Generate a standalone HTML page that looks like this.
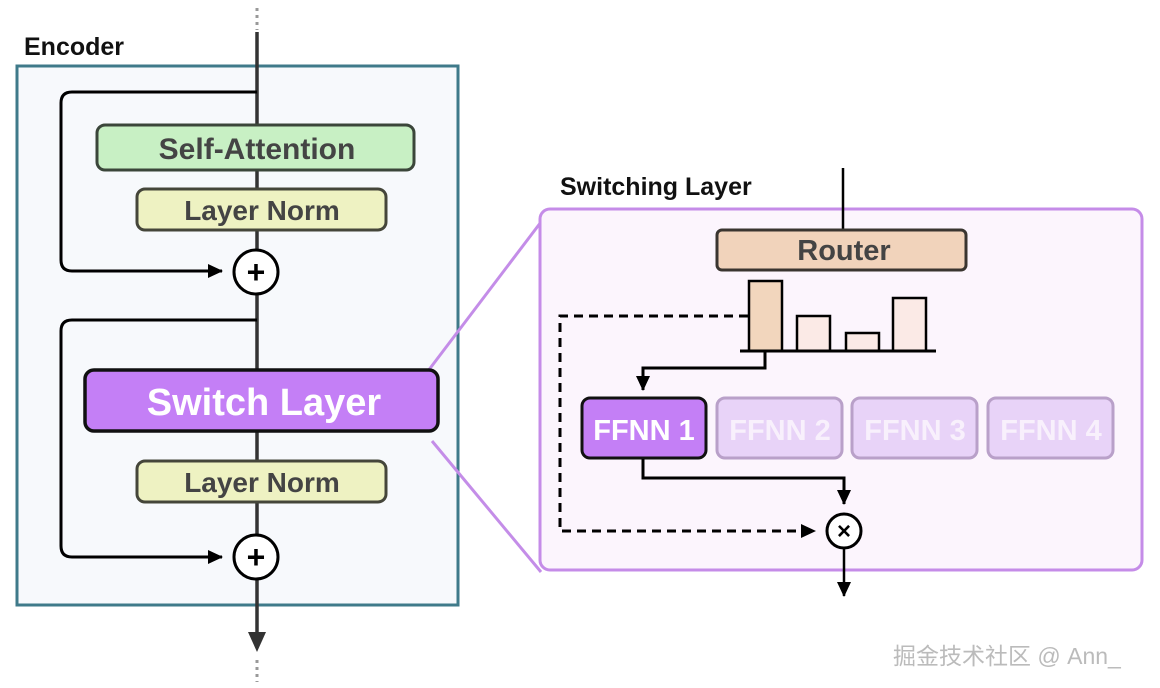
<!DOCTYPE html>
<html><head><meta charset="utf-8"><style>
html,body{margin:0;padding:0;background:#fff;}
svg{display:block;font-family:"Liberation Sans","Noto Sans CJK SC",sans-serif;}
</style></head><body>
<svg width="1160" height="688" viewBox="0 0 1160 688" xmlns="http://www.w3.org/2000/svg">
<defs>
<marker id="ah" markerWidth="16" markerHeight="16" refX="14" refY="8" orient="auto" markerUnits="userSpaceOnUse"><path d="M0,1 L15,8 L0,15 z" fill="#000"/></marker>
</defs>
<rect width="1160" height="688" fill="#fff"/>
<line x1="257" y1="8" x2="257" y2="30" stroke="#999" stroke-width="3" stroke-dasharray="3,4"/>
<line x1="257" y1="660" x2="257" y2="682" stroke="#999" stroke-width="3" stroke-dasharray="3,4"/>
<text x="24" y="55" font-size="25" font-weight="bold" fill="#111">Encoder</text>
<rect x="17" y="66" width="441" height="539" fill="#f7f9fc" stroke="#3f7a8a" stroke-width="3"/>
<line x1="428" y1="371" x2="541" y2="222" stroke="#c48de8" stroke-width="3"/>
<line x1="432" y1="441" x2="541" y2="572" stroke="#c48de8" stroke-width="3"/>
<line x1="257" y1="32" x2="257" y2="632" stroke="#333" stroke-width="3.5"/>
<path d="M257,632 L248,632 L257,652 L266,632 z" fill="#333"/>
<path d="M257,92 H72 Q61,92 61,103 V260 Q61,271 72,271 H222" fill="none" stroke="#000" stroke-width="3" marker-end="url(#ah)"/>
<path d="M257,320 H72 Q61,320 61,331 V546 Q61,557 72,557 H222" fill="none" stroke="#000" stroke-width="3" marker-end="url(#ah)"/>
<rect x="97" y="125" width="317" height="45" rx="8" fill="#c8f0c4" stroke="#3b463a" stroke-width="3"/>
<text x="257" y="159" font-size="30" font-weight="bold" fill="#444" text-anchor="middle">Self-Attention</text>
<rect x="137" y="189" width="249" height="41" rx="8" fill="#eef2c2" stroke="#45463a" stroke-width="3"/>
<text x="262" y="220" font-size="28" font-weight="bold" fill="#444" text-anchor="middle">Layer Norm</text>
<circle cx="256" cy="272" r="22" fill="#fff" stroke="#000" stroke-width="3"/>
<text x="256" y="283" font-size="32" font-weight="bold" text-anchor="middle" fill="#000">+</text>
<rect x="85" y="370" width="353" height="61" rx="9" fill="#c47ff6" stroke="#111" stroke-width="3.5"/>
<text x="264" y="415" font-size="38" font-weight="bold" fill="#fff" text-anchor="middle">Switch Layer</text>
<rect x="137" y="461" width="249" height="41" rx="8" fill="#eef2c2" stroke="#45463a" stroke-width="3"/>
<text x="262" y="492" font-size="28" font-weight="bold" fill="#444" text-anchor="middle">Layer Norm</text>
<circle cx="256" cy="557" r="22" fill="#fff" stroke="#000" stroke-width="3"/>
<text x="256" y="568" font-size="32" font-weight="bold" text-anchor="middle" fill="#000">+</text>
<text x="560" y="195" font-size="25" font-weight="bold" fill="#111">Switching Layer</text>
<rect x="540" y="209" width="602" height="361" rx="10" fill="#fcf5fd" stroke="#c58ce8" stroke-width="3"/>
<line x1="843" y1="168" x2="843" y2="230" stroke="#000" stroke-width="2.5"/>
<rect x="717" y="230" width="249" height="40" rx="5" fill="#f1d3bb" stroke="#3a3530" stroke-width="3"/>
<text x="844" y="260" font-size="29" font-weight="bold" fill="#444" text-anchor="middle">Router</text>
<path d="M748,316 H560 V531 H815" fill="none" stroke="#000" stroke-width="3" stroke-dasharray="9,6" marker-end="url(#ah)"/>
<rect x="749" y="281" width="33" height="70" fill="#f2d6bd" stroke="#000" stroke-width="2.5"/>
<rect x="797" y="316" width="33" height="35" fill="#fbeae6" stroke="#000" stroke-width="2.5"/>
<rect x="846" y="333" width="33" height="18" fill="#fbeae6" stroke="#000" stroke-width="2.5"/>
<rect x="893" y="298" width="33" height="53" fill="#fbeae6" stroke="#000" stroke-width="2.5"/>
<line x1="740" y1="351" x2="936" y2="351" stroke="#000" stroke-width="3"/>
<path d="M765,351 V368 H643 V390" fill="none" stroke="#000" stroke-width="3" marker-end="url(#ah)"/>
<rect x="582" y="398" width="124" height="60" rx="8" fill="#c47ff6" stroke="#111" stroke-width="3"/>
<text x="644" y="440" font-size="29" font-weight="bold" fill="#fff" text-anchor="middle">FFNN 1</text>
<rect x="717" y="398" width="125" height="60" rx="8" fill="#e8d3f8" stroke="#b9a0c9" stroke-width="3"/>
<text x="780" y="440" font-size="29" font-weight="bold" fill="#f8f0fc" text-anchor="middle">FFNN 2</text>
<rect x="852" y="398" width="125" height="60" rx="8" fill="#e8d3f8" stroke="#b9a0c9" stroke-width="3"/>
<text x="915" y="440" font-size="29" font-weight="bold" fill="#f8f0fc" text-anchor="middle">FFNN 3</text>
<rect x="988" y="398" width="125" height="60" rx="8" fill="#e8d3f8" stroke="#b9a0c9" stroke-width="3"/>
<text x="1051" y="440" font-size="29" font-weight="bold" fill="#f8f0fc" text-anchor="middle">FFNN 4</text>
<path d="M643,459 V478 H844 V504" fill="none" stroke="#000" stroke-width="3" marker-end="url(#ah)"/>
<circle cx="844" cy="531" r="17" fill="#fff" stroke="#000" stroke-width="3"/>
<text x="844" y="539" font-size="24" font-weight="bold" text-anchor="middle" fill="#000">×</text>
<path d="M844,548 V596" fill="none" stroke="#000" stroke-width="2.5" marker-end="url(#ah)"/>
<text x="893" y="664" font-size="23" fill="#bbb">掘金技术社区 @ Ann_</text>
</svg>
</body></html>
